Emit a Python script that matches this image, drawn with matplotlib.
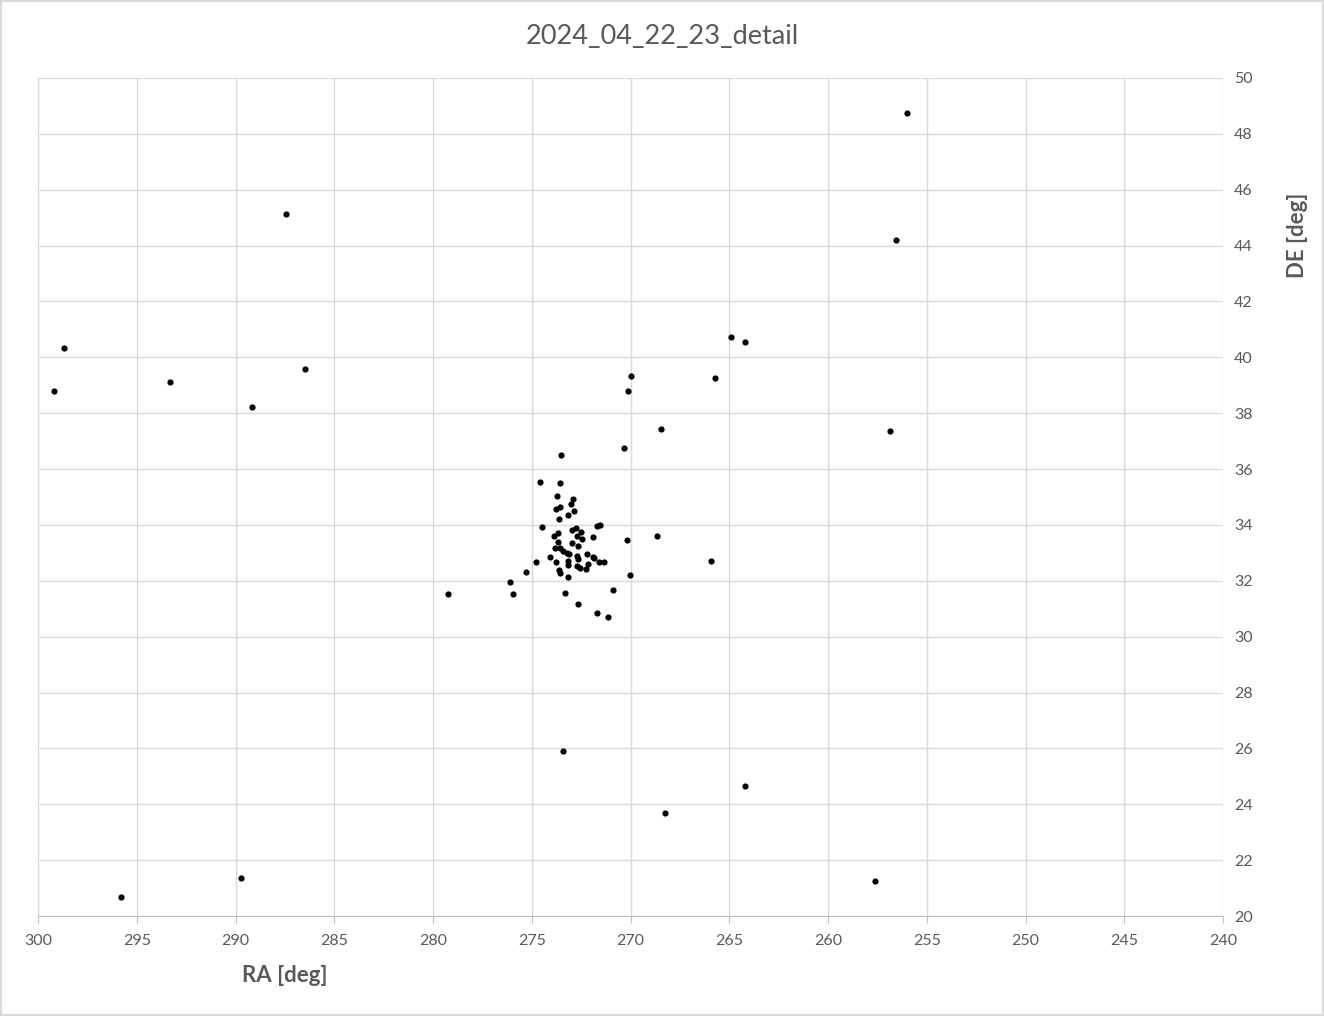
import matplotlib.pyplot as plt
import numpy as np

ra = [
    299.19, 298.68, 295.80, 293.32, 289.72, 289.16, 287.44, 286.48, 279.24,
    273.42, 268.66, 268.46, 268.25, 265.92, 265.72, 264.91, 264.20, 264.20,
    257.62, 256.86, 256.56, 256.00, 270.13, 269.97,
    # central cluster
    273.52, 270.34, 274.58, 273.57, 273.72, 272.91, 273.01, 273.77, 273.55,
    272.86, 273.62, 273.16, 274.48, 271.72, 271.55, 270.20, 270.03, 273.86,
    273.67, 272.98, 272.76, 272.51, 272.73, 272.47, 272.98, 272.68, 271.90,
    273.67, 273.82, 273.57, 273.43, 273.23, 273.13, 274.07, 274.78, 273.79,
    273.15, 272.73, 272.19, 271.92, 271.85, 271.62, 271.35, 272.68, 273.15,
    272.73, 272.56, 272.26, 272.17, 273.60, 273.57, 275.29, 273.16, 276.09,
    275.94, 273.32, 270.91, 272.68, 271.72, 271.16,
]
de = [
    38.79, 40.33, 20.68, 39.12, 21.36, 38.22, 45.13, 39.58, 31.53,
    25.90, 33.60, 37.43, 23.68, 32.71, 39.26, 40.73, 40.55, 24.65,
    21.25, 37.36, 44.20, 48.75, 38.79, 39.33,
    36.51, 36.75, 35.55, 35.49, 35.05, 34.93, 34.75, 34.57, 34.63,
    34.51, 34.21, 34.35, 33.92, 33.96, 34.01, 33.47, 32.21, 33.61,
    33.71, 33.83, 33.89, 33.76, 33.61, 33.49, 33.35, 33.26, 33.58,
    33.40, 33.16, 33.18, 33.08, 32.99, 32.95, 32.86, 32.68, 32.68,
    32.72, 32.90, 32.96, 32.84, 32.80, 32.68, 32.68, 32.78, 32.56,
    32.54, 32.47, 32.42, 32.60, 32.38, 32.28, 32.32, 32.15, 31.95,
    31.52, 31.56, 31.67, 31.17, 30.85, 30.71,
]

plt.rcParams['font.family'] = ['Lato', 'DejaVu Sans']

fig = plt.figure(figsize=(13.24, 10.16), dpi=100)
ax = fig.add_axes([38 / 1324, 100 / 1016, 1185 / 1324, 838 / 1016])

ax.scatter(ra, de, s=20, color='black', zorder=3, linewidths=0)

ax.set_xlim(300, 240)
ax.set_ylim(20, 50)
ax.set_xticks(np.arange(300, 239, -5))
ax.set_yticks(np.arange(20, 51, 2))
ax.grid(True, color='#d9d9d9', lw=1)
ax.set_axisbelow(True)

for side in ['top', 'left', 'right']:
    ax.spines[side].set_visible(False)
ax.spines['bottom'].set_color('#bfbfbf')

ax.yaxis.tick_right()
ax.tick_params(axis='y', length=0, pad=8, labelsize=11.5, labelcolor='#595959')
ax.tick_params(axis='x', length=5, color='#bfbfbf', pad=8, labelsize=11.5,
               labelcolor='#595959')

fig.text(0.5, 1 - 36 / 1016, '2024_04_22_23_detail', ha='center', va='center',
         fontsize=19.5, color='#595959')
fig.text(285 / 1324, 1 - 976 / 1016, 'RA [deg]', ha='center', va='center',
         fontsize=16, fontweight='bold', color='#595959')
fig.text(1297 / 1324, 1 - 235 / 1016, 'DE [deg]', ha='center', va='center',
         rotation=90, fontsize=16, fontweight='bold', color='#595959')

# light border like the spreadsheet chart area
fig.patches.append(plt.Rectangle((0.001, 0.001), 0.998, 0.998, transform=fig.transFigure,
                                 fill=False, edgecolor='#d9d9d9', lw=1.5))

fig.savefig('out.png', dpi=100)
